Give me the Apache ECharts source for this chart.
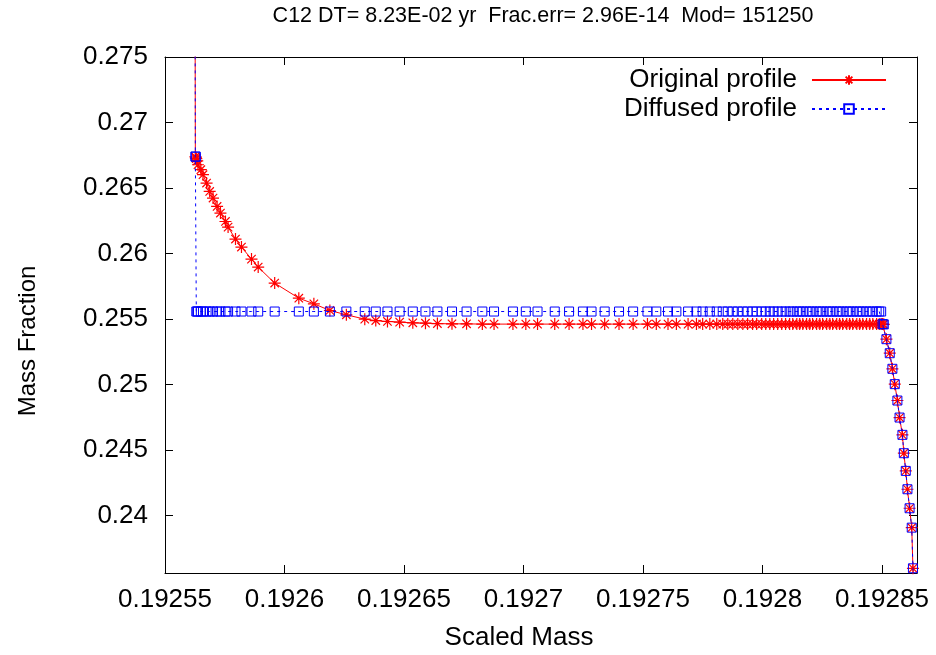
<!DOCTYPE html>
<html>
<head>
<meta charset="utf-8">
<title>C12 mass fraction profile</title>
<script src="https://cdn.jsdelivr.net/npm/echarts@6/dist/echarts.min.js"></script>
<style>
  html, body { margin: 0; padding: 0; background: #fff; }
  #chart { width: 936px; height: 655px; }
</style>
</head>
<body>
<div id="chart"></div>
<script>
// Mesh coordinate (scaled mass) shared by both profiles
const scaledMass = [
  0.1925625,
  0.1925627, 0.1925629, 0.1925631,
  0.1925635, 0.1925638, 0.1925650, 0.1925659, 0.1925674, 0.1925687, 0.1925701, 0.1925718,
  0.1925732, 0.1925753, 0.1925764, 0.1925795, 0.1925820, 0.1925862, 0.1925890, 0.1925959,
  0.1926060, 0.1926123, 0.1926190, 0.1926259, 0.1926336, 0.1926382, 0.1926431, 0.1926482,
  0.1926537, 0.1926590, 0.1926640, 0.1926701, 0.1926762, 0.1926828, 0.1926877,
  0.1926956, 0.1927010, 0.1927059, 0.1927131, 0.1927191, 0.1927249, 0.1927285, 0.1927340,
  0.1927400, 0.1927459, 0.1927519, 0.1927556, 0.1927605, 0.1927640, 0.1927689, 0.1927724,
  0.1927750, 0.1927780, 0.1927809, 0.1927834, 0.1927855, 0.1927876, 0.1927897, 0.1927918,
  0.1927938, 0.1927959, 0.1927976, 0.1927997, 0.1928014, 0.1928031, 0.1928047, 0.1928064,
  0.1928081, 0.1928097, 0.1928114, 0.1928127, 0.1928144, 0.1928156, 0.1928169, 0.1928185,
  0.1928198, 0.1928210, 0.1928227, 0.1928240, 0.1928252, 0.1928269, 0.1928282, 0.1928294,
  0.1928311, 0.1928323, 0.1928336, 0.1928353, 0.1928365, 0.1928378, 0.1928395, 0.1928407,
  0.1928420, 0.1928436, 0.1928449, 0.1928462, 0.1928478, 0.1928489, 0.1928497,
  0.1928503, 0.1928508, 0.1928519, 0.1928533, 0.1928544, 0.1928554, 0.1928565, 0.1928574,
  0.1928586, 0.1928592, 0.1928600, 0.1928607, 0.1928616, 0.1928625, 0.1928630, 0.1928633
];

// C12 mass fraction before diffusion
const originalProfile = [
  0.29,
  0.26739, 0.26731, 0.26724,
  0.26708, 0.26678, 0.26640, 0.26602, 0.26538, 0.26474, 0.26424, 0.26360,
  0.26309, 0.26245, 0.26202, 0.26111, 0.26050, 0.25958, 0.25897, 0.25775,
  0.25660, 0.25617, 0.25566, 0.25533, 0.25500, 0.25489, 0.25482, 0.25477,
  0.25472, 0.25469, 0.25466, 0.25464, 0.25464, 0.25462, 0.25462,
  0.25462, 0.25462, 0.25462, 0.25462, 0.25462, 0.25462, 0.25462, 0.25462,
  0.25462, 0.25462, 0.25462, 0.25462, 0.25462, 0.25462, 0.25462, 0.25462,
  0.25462, 0.25462, 0.25462, 0.25462, 0.25462, 0.25462, 0.25462, 0.25462,
  0.25462, 0.25462, 0.25462, 0.25462, 0.25462, 0.25462, 0.25462, 0.25462,
  0.25462, 0.25462, 0.25462, 0.25462, 0.25462, 0.25462, 0.25462, 0.25462,
  0.25462, 0.25462, 0.25462, 0.25462, 0.25462, 0.25462, 0.25462, 0.25462,
  0.25462, 0.25462, 0.25462, 0.25462, 0.25462, 0.25462, 0.25462, 0.25462,
  0.25462, 0.25462, 0.25462, 0.25462, 0.25462, 0.25462, 0.25462,
  0.25462, 0.25460, 0.25347, 0.25240, 0.25121, 0.25004, 0.24879, 0.24749,
  0.24617, 0.24477, 0.24342, 0.24202, 0.24057, 0.23909, 0.23599, 0.23520
];

// C12 mass fraction after diffusion
const diffusedProfile = [
  0.29,
  0.26741, 0.26739, 0.25558,
  0.25558, 0.25558, 0.25558, 0.25558, 0.25558, 0.25558, 0.25558, 0.25558,
  0.25558, 0.25558, 0.25558, 0.25558, 0.25558, 0.25558, 0.25558, 0.25558,
  0.25558, 0.25558, 0.25558, 0.25558, 0.25558, 0.25558, 0.25558, 0.25558,
  0.25558, 0.25558, 0.25558, 0.25558, 0.25558, 0.25558, 0.25558,
  0.25558, 0.25558, 0.25558, 0.25558, 0.25558, 0.25558, 0.25558, 0.25558,
  0.25558, 0.25558, 0.25558, 0.25558, 0.25558, 0.25558, 0.25558, 0.25558,
  0.25558, 0.25558, 0.25558, 0.25558, 0.25558, 0.25558, 0.25558, 0.25558,
  0.25558, 0.25558, 0.25558, 0.25558, 0.25558, 0.25558, 0.25558, 0.25558,
  0.25558, 0.25558, 0.25558, 0.25558, 0.25558, 0.25558, 0.25558, 0.25558,
  0.25558, 0.25558, 0.25558, 0.25558, 0.25558, 0.25558, 0.25558, 0.25558,
  0.25558, 0.25558, 0.25558, 0.25558, 0.25558, 0.25558, 0.25558, 0.25558,
  0.25558, 0.25558, 0.25558, 0.25558, 0.25558, 0.25558, 0.25558,
  0.25462, 0.25460, 0.25347, 0.25240, 0.25121, 0.25004, 0.24879, 0.24749,
  0.24617, 0.24477, 0.24342, 0.24202, 0.24057, 0.23909, 0.23599, 0.23520
];

// Tick positions
const xTicks = [0.19255, 0.1926, 0.19265, 0.1927, 0.19275, 0.1928, 0.19285];
const yTicks = [0.24, 0.245, 0.25, 0.255, 0.26, 0.265, 0.27, 0.275];

const seriesNames = ['Original profile', 'Diffused profile'];
const titleText = 'C12 DT= 8.23E-02 yr  Frac.err= 2.96E-14  Mod= 151250';

const X_MIN = 0.19255, X_MAX = 0.1928647;
const Y_MIN = 0.23563, Y_MAX = 0.275;

const FONT = '"Liberation Sans", Arial, Helvetica, sans-serif';
const fmt = v => String(+Number(v).toFixed(6));

// asterisk marker (plus and cross overlaid)
const STAR = 'path://M0,5L10,5M5,0L5,10M1.5,1.5L8.5,8.5M8.5,1.5L1.5,8.5';

function pairs(xs, ys) {
  return xs.map((x, i) => [x, ys[i]]);
}

const tickInside = { show: true, inside: true, length: 8, lineStyle: { color: '#000', width: 1 } };
const frameLine = { show: true, onZero: false, lineStyle: { color: '#000', width: 1 } };

const chart = echarts.init(document.getElementById('chart'), null, { renderer: 'canvas' });

chart.setOption({
  animation: false,
  backgroundColor: '#fff',
  textStyle: { fontFamily: FONT },
  title: {
    text: titleText,
    left: 538,
    top: 0,
    textAlign: 'center',
    textStyle: { fontFamily: FONT, fontSize: 21.5, fontWeight: 'normal', color: '#000' }
  },
  grid: { left: 165, right: 19, top: 57, bottom: 82, containLabel: false },
  legend: {
    data: seriesNames,
    orient: 'vertical',
    align: 'right',
    right: 44,
    top: 62,
    itemWidth: 74,
    itemHeight: 12,
    itemGap: 3,
    textStyle: { fontFamily: FONT, fontSize: 26, color: '#000', lineHeight: 26, padding: [0, 10, 0, 0] }
  },
  xAxis: [
    {
      type: 'value', position: 'bottom', min: X_MIN, max: X_MAX,
      axisLine: frameLine,
      axisTick: Object.assign({ customValues: xTicks }, tickInside),
      axisLabel: { customValues: xTicks, formatter: fmt, fontFamily: FONT, fontSize: 26, color: '#000', margin: 14 },
      splitLine: { show: false }
    },
    {
      type: 'value', position: 'top', min: X_MIN, max: X_MAX,
      axisLine: frameLine,
      axisTick: Object.assign({ customValues: xTicks }, tickInside),
      axisLabel: { show: false },
      splitLine: { show: false }
    }
  ],
  yAxis: [
    {
      type: 'value', position: 'left', min: Y_MIN, max: Y_MAX,
      axisLine: frameLine,
      axisTick: Object.assign({ customValues: yTicks }, tickInside),
      axisLabel: { customValues: yTicks, formatter: fmt, fontFamily: FONT, fontSize: 26, color: '#000', margin: 17 },
      splitLine: { show: false }
    },
    {
      type: 'value', position: 'right', min: Y_MIN, max: Y_MAX,
      axisLine: frameLine,
      axisTick: Object.assign({ customValues: yTicks }, tickInside),
      axisLabel: { show: false },
      splitLine: { show: false }
    }
  ],
  graphic: [
    {
      type: 'text', x: 28, y: 341, rotation: Math.PI / 2,
      style: { text: 'Mass Fraction', font: '24px ' + FONT, fill: '#000', align: 'center', verticalAlign: 'middle' }
    },
    {
      type: 'text', x: 519, y: 638,
      style: { text: 'Scaled Mass', font: '26px ' + FONT, fill: '#000', align: 'center', verticalAlign: 'middle' }
    }
  ],
  series: [
    {
      name: seriesNames[0],
      type: 'line',
      xAxisIndex: 0, yAxisIndex: 0,
      data: pairs(scaledMass, originalProfile),
      clip: true,
      showAllSymbol: true,
      symbol: STAR,
      symbolSize: 12,
      lineStyle: { color: '#ff0000', width: 1 },
      itemStyle: { color: 'rgba(0,0,0,0)', borderColor: '#ff0000', borderWidth: 1.2 },
      emphasis: { disabled: true },
      z: 2
    },
    {
      name: seriesNames[1],
      type: 'line',
      xAxisIndex: 0, yAxisIndex: 0,
      data: pairs(scaledMass, diffusedProfile),
      clip: true,
      showAllSymbol: true,
      symbol: 'rect',
      symbolSize: 9,
      lineStyle: { color: '#0000ff', width: 1, type: [3, 4] },
      itemStyle: { color: 'rgba(0,0,0,0)', borderColor: '#0000ff', borderWidth: 1 },
      emphasis: { disabled: true },
      z: 3
    }
  ]
});
</script>
</body>
</html>
